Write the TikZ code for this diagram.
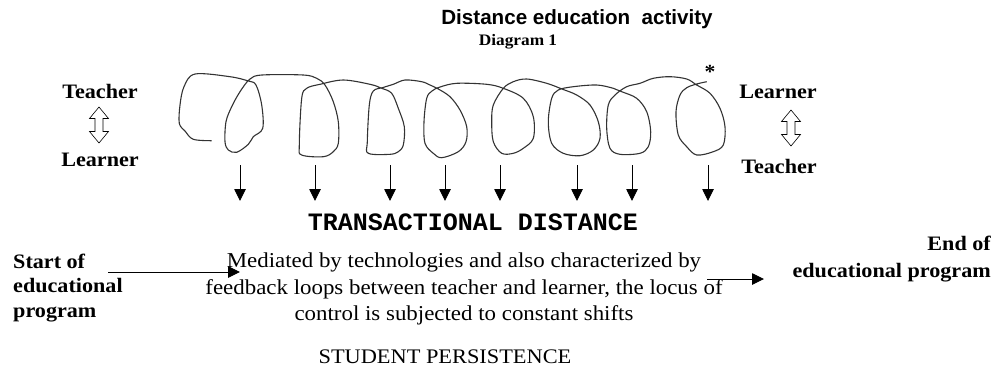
\documentclass[tikz,border=0pt]{standalone}
\usepackage{fontspec}
\setmainfont{Liberation Serif}[FakeStretch=1.08]
\setsansfont{Liberation Sans}
\setmonofont{Liberation Mono}
\usetikzlibrary{arrows.meta}

\begin{document}
\begin{tikzpicture}[x=1pt,y=-1pt,
    who/.style={font=\bfseries\fontsize{20.5}{24}\selectfont,inner sep=0pt},
    flow/.style={-{Triangle[length=12pt,width=11.5pt]},line width=0.9pt},
    swap/.style={draw,line width=0.6pt,line join=miter},
    coil/.style={line width=1.1pt,black!80,line join=round}]
    \useasboundingbox (0,0) rectangle (995,368);

    % title
    \node[font=\sffamily\bfseries\fontsize{20.6}{24}\selectfont] (title) at (577,19) {Distance education\ \ activity};
    \node[font=\bfseries\fontsize{16}{18}\selectfont] (diag) at (518,42) {Diagram 1};

    % left and right roles
    \node[who] (teacherL) at (100,91) {Teacher};
    \node[who] (learnerL) at (100,160) {Learner};
    \node[who] (learnerR) at (778,92) {Learner};
    \node[who] (teacherR) at (779,166) {Teacher};
    \coordinate (swapL) at (99,107);
    \coordinate (swapR) at (791,110);
    \foreach \c in {swapL,swapR}
        \draw[swap] (\c) -- ++(9.5,11.5) -- ++(-5.5,0) -- ++(0,13) -- ++(5.5,0) -- ++(-9.5,11.5)
            -- ++(-9.5,-11.5) -- ++(5.5,0) -- ++(0,-13) -- ++(-5.5,0) -- cycle;
    \node[font=\bfseries\fontsize{20}{24}\selectfont] (star) at (710,72) {*};

    % the loops
    \draw[coil] plot[smooth,tension=0.55] coordinates {
        (211.7,140.7) (193.3,139.3) (185,131) (179.3,123.3) (180,105) (184,86.7) (195,74)
        (230,76.7) (248.3,81) (256,85) (261.7,105) (262.7,128.3) (253.3,136.7) (248.3,144.3)
        (236.7,152.3) (228.3,150) (225,141.7) (226,121.7) (231.7,106.7) (240,91.7) (250,79)
        (262,75) (303.3,75) (316.7,78.3) (325,85) (333.3,101.7) (338.3,121.7) (338.3,143.3)
        (333.3,151.7) (323.3,156.7) (301.7,155) (299.3,145) (301.7,98.3) (306.7,88.3) (320,84.3)
        (343.3,80) (370,84.3) (381.7,88.3) (391.7,93.3) (398.3,108.3) (404.3,126.7) (403.3,145)
        (398.3,151.7) (390,154.3) (368.3,153.3) (367.3,141.7) (369.3,105) (373.3,91) (383,87.5)
        (393.3,84.3) (405,80) (421.7,81.7) (430,85) (438.3,89) (450,96.7) (460,110) (466.7,126.7)
        (466,141.7) (458.3,151.7) (441.7,157.7) (433.3,153.3) (425,143.3) (424,121.7) (426.7,98.3)
        (432,91) (440,87) (456.7,83.3) (486.7,84.3) (503.3,88.3) (523.3,98.3) (533.3,116.7)
        (533.3,138.3) (523.3,148.3) (513.3,153.3) (501.7,153.3) (493.3,141.7) (491.7,121.7)
        (493.3,105) (503.3,88.3) (513.3,81.7) (526.7,79) (546.7,83.3) (562.7,89.3) (576.7,95)
        (590,105) (598.3,121.7) (600,138.3) (593.3,150) (580,155.7) (563.3,153.3) (551.7,143.3)
        (548.3,121.7) (551.7,98.3) (558.3,90) (573.3,86.7) (596.7,85) (613.3,88.3) (621.7,91.7)
        (636.7,98.3) (646.7,111.7) (650.7,131.7) (648.3,146.7) (640,153.3) (620,154.3) (610,148.3)
        (606.7,128.3) (608.3,105) (615,95) (626.7,86.7) (640,83.3) (653.3,78.3) (670,76.7)
        (686.7,79) (696.7,85) (710,93.3) (720,108.3) (725,126.7) (723.3,145) (713.3,151.7)
        (696.7,155) (686.7,146.7) (678.3,135) (676,111.7) (680,95) (686.7,87.7) (696.7,84)
        (706.7,81.7)};

    % arrows down to the distance
    \node[font=\ttfamily\bfseries\fontsize{25}{28}\selectfont] (dist) at (473,222) {TRANSACTIONAL DISTANCE};
    \foreach \x in {240,315,390,445,500,577,632,708}
        \draw[flow] (\x,165) -- (\x,201);

    % program span
    \node[who,align=left,anchor=west,font=\bfseries\fontsize{20.5}{24.5}\selectfont] (start) at (13,288)
        {Start of\\educational\\program};
    \node[inner sep=0pt,align=center,font=\fontsize{21.2}{26.5}\selectfont] (mid) at (464,289)
        {Mediated by technologies and also characterized by\\
         feedback loops between teacher and learner, the locus of\\
         control is subjected to constant shifts};
    \node[who,align=right,anchor=east,font=\bfseries\fontsize{20.5}{27}\selectfont] (end) at (991,259)
        {End of\\educational program};
    \coordinate (s0) at (108,272);
    \coordinate (s1) at (240,272);
    \coordinate (e0) at (707,279);
    \coordinate (e1) at (764,279);
    \draw[flow] (s0) -- (s1);
    \draw[flow] (e0) -- (e1);

    \node[font=\fontsize{20.7}{24}\selectfont] (persist) at (445,357) {STUDENT PERSISTENCE};
\end{tikzpicture}
\end{document}
